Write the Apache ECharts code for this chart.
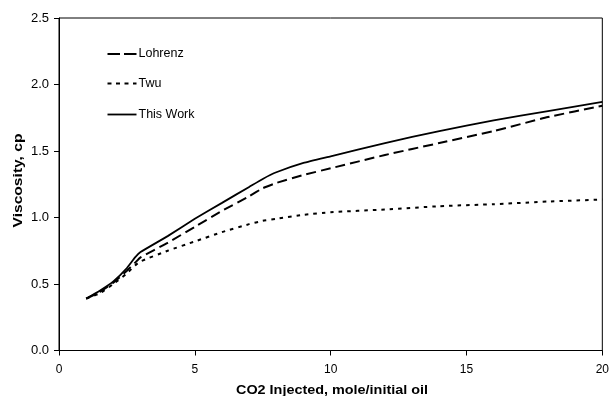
<!DOCTYPE html>
<html>
<head>
<meta charset="utf-8">
<script src="https://cdn.jsdelivr.net/npm/echarts@6/dist/echarts.min.js"></script>
<style>
  html, body { margin: 0; padding: 0; background: #fff; }
  #chart { width: 612px; height: 396px; }
</style>
</head>
<body>
<div id="chart"></div>
<script>
// CO2 injected (mole / initial oil)
const co2Injected = [1, 1.5, 2, 2.5, 2.8, 3, 4, 5, 6, 7, 7.5, 8, 9, 10, 12, 14, 16, 18, 20];

// Viscosity (cp) for each correlation
const lohrenz  = [0.39, 0.44, 0.51, 0.60, 0.66, 0.70, 0.81, 0.93, 1.05, 1.16, 1.22, 1.26, 1.32, 1.37, 1.47, 1.56, 1.65, 1.755, 1.84];
const twu      = [0.39, 0.43, 0.50, 0.58, 0.64, 0.67, 0.75, 0.82, 0.89, 0.95, 0.975, 0.99, 1.02, 1.04, 1.06, 1.085, 1.10, 1.12, 1.135];
const thisWork = [0.39, 0.45, 0.52, 0.62, 0.70, 0.74, 0.86, 0.99, 1.11, 1.23, 1.29, 1.34, 1.41, 1.46, 1.56, 1.65, 1.73, 1.80, 1.87];

const xTicks = [0, 5, 10, 15, 20];
const yTicks = ['0.0', '0.5', '1.0', '1.5', '2.0', '2.5'];

const seriesNames = ['Lohrenz', 'Twu', 'This Work'];
const xTitle = 'CO2 Injected, mole/initial oil';
const yTitle = 'Viscosity, cp';

const pairs = ys => co2Injected.map((x, i) => [x, ys[i]]);
const FONT = 'Liberation Sans, Arial, sans-serif';

// line styles for the plotted curves and the key samples
const styles = {
  'Lohrenz':   { width: 2,   dash: [10, 5],  keyDash: [12.5, 4] },
  'Twu':       { width: 2,   dash: [3.5, 5], keyDash: [4, 4.5] },
  'This Work': { width: 1.8, dash: null,     keyDash: null }
};

const chart = echarts.init(document.getElementById('chart'), null, { renderer: 'canvas' });

// key in the upper-left corner of the plot
const keyItems = [];
seriesNames.forEach((name, i) => {
  const y = [54, 83.5, 114.5][i];
  keyItems.push({
    type: 'line',
    shape: { x1: 107.5, y1: y, x2: 136.5, y2: y },
    style: { stroke: '#000', lineWidth: styles[name].width, lineDash: styles[name].keyDash || null }
  });
  keyItems.push({
    type: 'text',
    x: 138.5, y: y,
    style: { text: name, font: '12.5px ' + FONT, fill: '#000', align: 'left', verticalAlign: 'middle' }
  });
});

chart.setOption({
  animation: false,
  backgroundColor: '#fff',
  grid: { left: 59, right: 7, top: 18, bottom: 45.5, show: true, borderColor: '#000', borderWidth: 1, backgroundColor: 'transparent' },
  xAxis: {
    type: 'value',
    min: 0, max: 20, interval: 5,
    axisLine: { lineStyle: { color: '#000', width: 1 } },
    axisTick: { show: true, inside: false, length: 5, lineStyle: { color: '#000' } },
    axisLabel: { fontFamily: FONT, fontSize: 12, color: '#000', margin: 13,
      formatter: v => xTicks.includes(v) ? String(v) : '' },
    splitLine: { show: false }
  },
  yAxis: {
    type: 'value',
    min: 0, max: 2.5, interval: 0.5,
    axisLine: { lineStyle: { color: '#000', width: 1 } },
    axisTick: { show: true, inside: false, length: 5, lineStyle: { color: '#000' } },
    axisLabel: { fontFamily: FONT, fontSize: 13, color: '#000', margin: 10,
      formatter: v => yTicks[Math.round(v / 0.5)] },
    splitLine: { show: false }
  },
  graphic: [
    {
      type: 'text',
      x: 332, y: 391,
      scaleX: 1.2,
      style: { text: xTitle, font: 'bold 12px ' + FONT, fill: '#000', align: 'center', verticalAlign: 'middle' }
    },
    {
      type: 'text',
      x: 18.5, y: 180.5,
      rotation: Math.PI / 2,
      scaleX: 1.2,
      style: { text: yTitle, font: 'bold 13px ' + FONT, fill: '#000', align: 'center', verticalAlign: 'middle' }
    },
    { type: 'group', children: keyItems }
  ],
  series: seriesNames.map((name, i) => ({
    name: name,
    type: 'line',
    data: pairs([lohrenz, twu, thisWork][i]),
    showSymbol: false,
    symbol: 'none',
    smooth: 0.15,
    lineStyle: { color: '#000', width: styles[name].width, type: styles[name].dash || 'solid' }
  }))
});
</script>
</body>
</html>
